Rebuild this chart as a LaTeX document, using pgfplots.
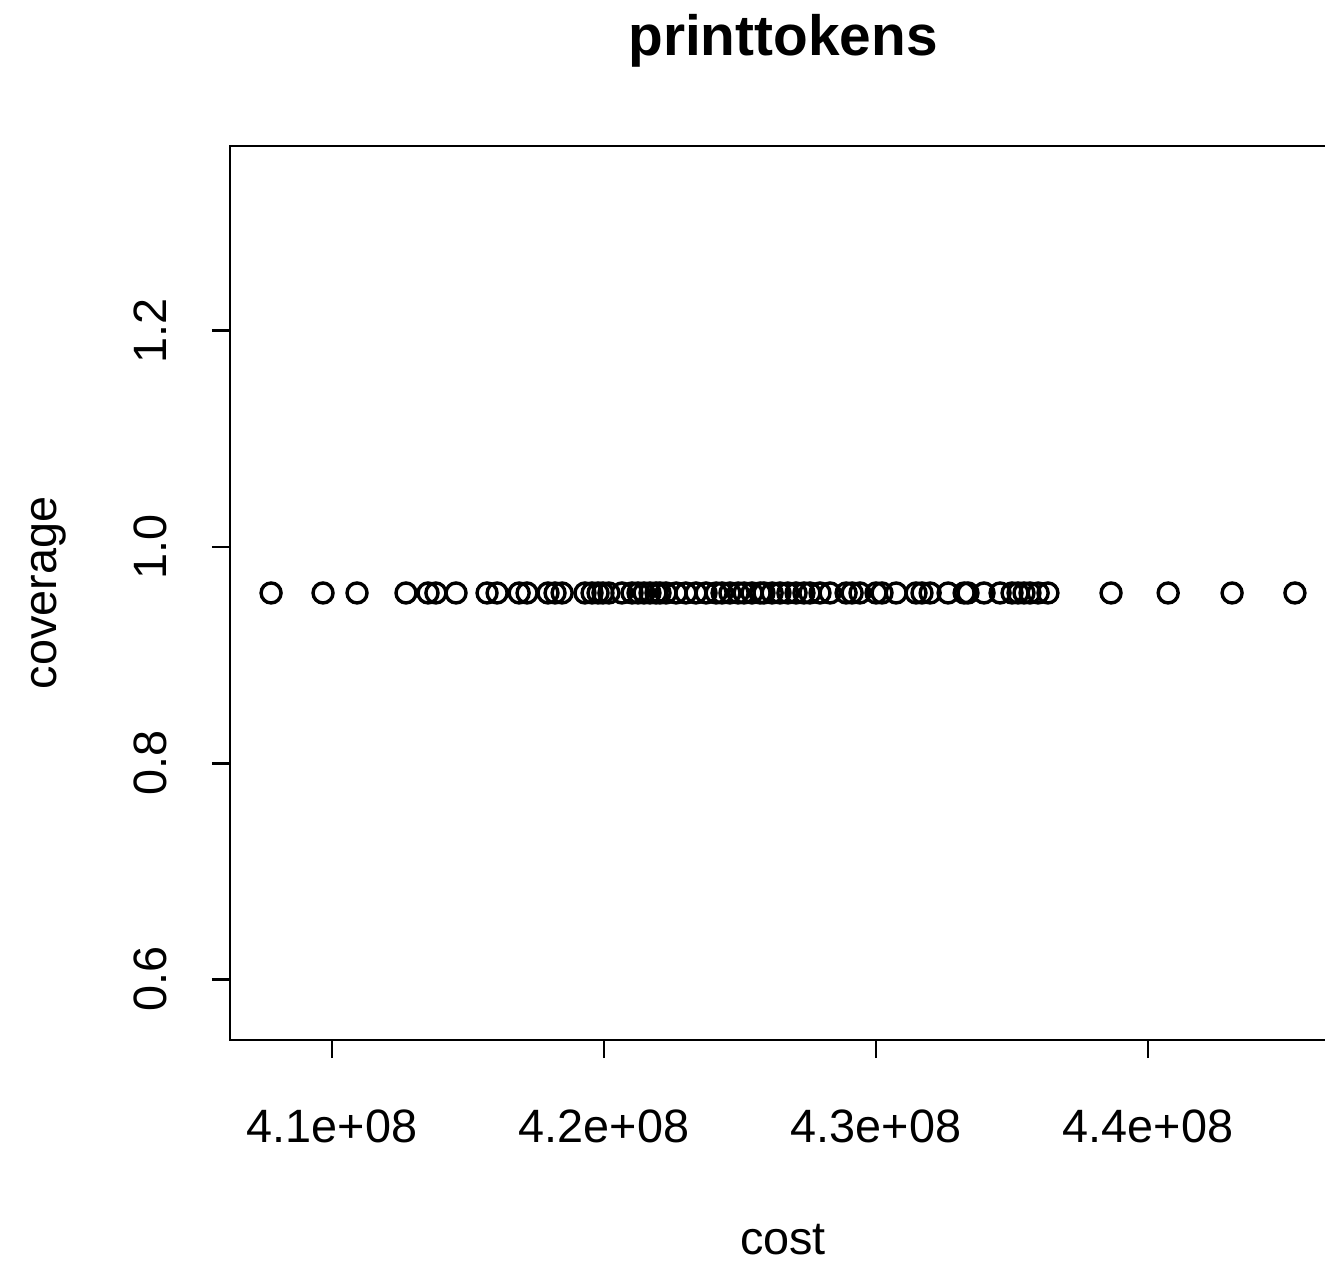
\documentclass[border=0pt]{standalone}
\usepackage{pgfplots}
\pgfplotsset{compat=1.18}
\usepackage{fontspec}
\setmainfont{Liberation Sans}
\begin{document}
\begin{tikzpicture}
\begin{axis}[
  at={(57.5pt,55.25pt)}, anchor=south west,
  scale only axis, width=276.5pt, height=223.5pt,
  xmin=406.25, xmax=446.91, ymin=0.5439, ymax=1.3711,
  axis line style={line width=0.7pt},
  tick style={line width=0.7pt, black},
  tick align=outside, major tick length=4.5pt,
  xtick pos=bottom, ytick pos=left,
  xtick={410,420,430,440}, xticklabels={4.1e+08,4.2e+08,4.3e+08,4.4e+08},
  ytick={0.6,0.8,1.0,1.2}, yticklabels={0.6,0.8,1.0,1.2},
  xticklabel style={font=\fontsize{11.7}{14}\selectfont, anchor=base},
  xticklabel shift=21pt,
  yticklabel style={font=\fontsize{11.7}{14}\selectfont, anchor=base, rotate=90},
  yticklabel shift=11.5pt,
  clip=false,
]
\addplot[only marks, mark=o, mark size=2.5pt, mark options={line width=0.85pt, black}] coordinates {
(407.76,0.9575)(409.67,0.9575)(410.92,0.9575)(412.72,0.9575)(413.53,0.9575)
(413.82,0.9575)(414.56,0.9575)(415.70,0.9575)(416.07,0.9575)(416.88,0.9575)
(417.17,0.9575)(417.94,0.9575)(418.20,0.9575)(418.46,0.9575)(419.30,0.9575)
(419.56,0.9575)(419.78,0.9575)(419.96,0.9575)(420.18,0.9575)(420.66,0.9575)
(421.03,0.9575)(421.25,0.9575)(421.47,0.9575)(421.69,0.9575)(421.91,0.9575)
(422.06,0.9575)(422.28,0.9575)(422.65,0.9575)(423.01,0.9575)(423.38,0.9575)
(423.75,0.9575)(424.12,0.9575)(424.34,0.9575)(424.63,0.9575)(424.93,0.9575)
(425.15,0.9575)(425.44,0.9575)(425.74,0.9575)(425.88,0.9575)(426.18,0.9575)
(426.47,0.9575)(426.76,0.9575)(427.06,0.9575)(427.35,0.9575)(427.57,0.9575)
(427.94,0.9575)(428.31,0.9575)(428.90,0.9575)(429.12,0.9575)(429.41,0.9575)
(430.00,0.9575)(430.22,0.9575)(430.74,0.9575)(431.47,0.9575)(431.69,0.9575)
(431.99,0.9575)(432.65,0.9575)(433.24,0.9575)(433.38,0.9575)(433.97,0.9575)
(434.56,0.9575)(435.00,0.9575)(435.22,0.9575)(435.44,0.9575)(435.66,0.9575)
(435.96,0.9575)(436.32,0.9575)(438.64,0.9575)(440.74,0.9575)(443.09,0.9575)
(445.40,0.9575)
};
\node[anchor=base, font=\fontsize{14.2}{17}\selectfont\bfseries] at ([yshift=22.5pt]axis description cs:0.5,1) {printtokens};
\node[anchor=base, font=\fontsize{11.7}{14}\selectfont] at ([yshift=-53.5pt]axis description cs:0.5,0) {cost};
\node[anchor=base, rotate=90, font=\fontsize{11.7}{14}\selectfont] at ([xshift=-43.25pt]axis description cs:0,0.5) {coverage};
\end{axis}
\pgfresetboundingbox
\path[use as bounding box] (0,0) rectangle (331.25pt,315.25pt);
\end{tikzpicture}
\end{document}
